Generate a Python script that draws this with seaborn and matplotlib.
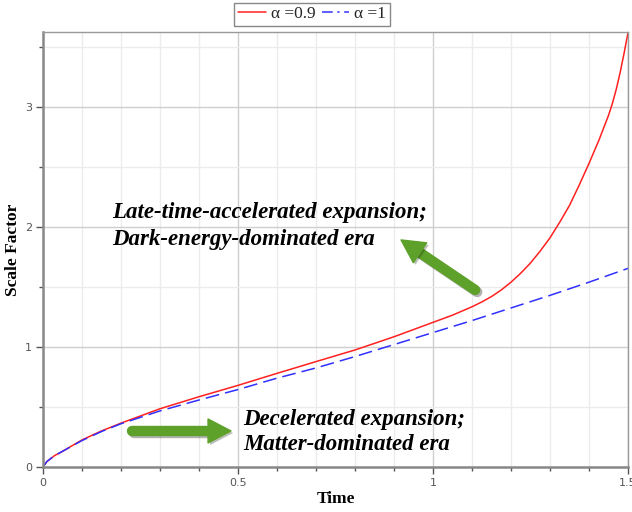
import numpy as np
import pandas as pd
import seaborn as sns
from matplotlib import pyplot as plt
from matplotlib.lines import Line2D
from matplotlib import patheffects as pe

# values
time_red = [0, 0.01, 0.03, 0.05, 0.1, 0.15, 0.2, 0.3, 0.4, 0.5, 0.6, 0.7, 0.8, 0.9, 1.0,
            1.05, 1.1, 1.125, 1.15, 1.175, 1.2, 1.225, 1.25, 1.275, 1.3, 1.325, 1.35, 1.375, 1.4,
            1.425, 1.45, 1.46, 1.47, 1.48, 1.49, 1.5]
scale_red = [0, 0.045, 0.095, 0.13, 0.225, 0.30, 0.365, 0.485, 0.585, 0.68, 0.78, 0.878, 0.975, 1.085, 1.205,
             1.265, 1.335, 1.375, 1.42, 1.475, 1.54, 1.615, 1.70, 1.80, 1.91, 2.04, 2.18, 2.35, 2.53,
             2.72, 2.93, 3.03, 3.15, 3.29, 3.45, 3.62]
time_blue = [0, 0.01, 0.03, 0.05, 0.1, 0.15, 0.2, 0.3, 0.4, 0.5, 0.6, 0.7, 0.8, 0.9, 1.0,
             1.1, 1.2, 1.3, 1.4, 1.5]
scale_blue = [0, 0.045, 0.095, 0.13, 0.22, 0.295, 0.36, 0.467, 0.558, 0.645, 0.74, 0.825, 0.92, 1.02, 1.12,
              1.22, 1.325, 1.43, 1.54, 1.655]
labels = ['\u03b1 =0.9', '\u03b1 =1']

df_red = pd.DataFrame({'Time': time_red, 'Scale': scale_red})
df_blue = pd.DataFrame({'Time': time_blue, 'Scale': scale_blue})

sns.set_theme(style='white')
plt.rcParams['font.family'] = ['DejaVu Sans']

fig = plt.figure(figsize=(6.32, 5.12), dpi=100)
ax = fig.add_axes([0.068, 0.088, 0.9257, 0.8495])

red = '#ff2020'
blue = '#3030ff'
sns.lineplot(data=df_red, x='Time', y='Scale', ax=ax, color=red, lw=1.1)
sns.lineplot(data=df_blue, x='Time', y='Scale', ax=ax, color=blue, lw=1.1)
ax.lines[1].set_dashes([9, 4])

ax.set_xlim(0, 1.5)
ax.set_ylim(0, 3.625)
ax.set_xticks([0, 0.5, 1, 1.5])
ax.set_xticklabels(['0', '0.5', '1', '1.5'])
ax.set_xticks(np.arange(0, 1.51, 0.1), minor=True)
ax.set_yticks([0, 1, 2, 3])
ax.set_yticks(np.arange(0, 3.6, 0.5), minor=True)
ax.grid(True, which='major', color='#cfcfcf', lw=1)
ax.grid(True, which='minor', color='#ececec', lw=1)
ax.set_axisbelow(True)
ax.tick_params(which='major', direction='out', length=5, width=1, color='#555555',
               labelsize=8, labelcolor='#555555', bottom=True, left=True, pad=3)
ax.tick_params(which='minor', direction='out', length=3, width=1, color='#555555',
               bottom=True, left=True)
for side in ['left', 'bottom']:
    ax.spines[side].set_color('#888888')
    ax.spines[side].set_linewidth(1.8)
for side in ['top', 'right']:
    ax.spines[side].set_color('#999999')
    ax.spines[side].set_linewidth(1.0)

serif = ['Liberation Serif', 'DejaVu Serif']
ax.set_xlabel('Time', family=serif, weight='bold', fontsize=12.5, color='black', va='center')
ax.set_ylabel('Scale Factor', family=serif, weight='bold', fontsize=12.5, color='black', va='center')
ax.xaxis.set_label_coords(0.5, -0.074)
ax.yaxis.set_label_coords(-0.051, 0.5)

handles = [Line2D([], [], color=red, lw=1.1),
           Line2D([], [], color=blue, lw=1.1, dashes=[7, 3, 1.5, 3])]
leg = ax.legend(handles, labels, loc='lower center', bbox_to_anchor=(0.46, 1.0), ncol=2,
                fancybox=False, edgecolor='#888888', framealpha=1, borderpad=0.2,
                handlelength=1.6, handletextpad=0.3, columnspacing=0.35, borderaxespad=0.35,
                prop={'family': serif, 'size': 12.5})
leg.get_frame().set_linewidth(1.0)

# annotation text
tprops = dict(family=serif, weight='bold', style='italic', fontsize=16.5, color='black')
ax.text(0.177, 2.075, 'Late-time-accelerated expansion;', va='baseline', **tprops)
ax.text(0.177, 1.85, 'Dark-energy-dominated era', va='baseline', **tprops)
ax.text(0.513, 0.35, 'Decelerated expansion;', va='baseline', **tprops)
ax.text(0.513, 0.142, 'Matter-dominated era', va='baseline', **tprops)

# green arrows: round-capped shaft plus a head
green = '#5ea12a'
shadow = [pe.SimpleLineShadow(offset=(1.5, -1.5), alpha=0.3, shadow_color='black'), pe.Normal()]
pshadow = [pe.SimplePatchShadow(offset=(1.5, -1.5), alpha=0.3), pe.Normal()]
arrows = [((1.108, 1.475), (0.918, 1.892)), ((0.228, 0.30), (0.482, 0.30))]
for (x0, y0), (x1, y1) in arrows:
    # shaft ends a bit before the tip (in display units)
    p0 = ax.transData.transform((x0, y0))
    p1 = ax.transData.transform((x1, y1))
    d = p1 - p0
    pm = p1 - d / np.hypot(*d) * 18
    xm, ym = ax.transData.inverted().transform(pm)
    ax.plot([x0, xm], [y0, ym], color=green, lw=7.5, solid_capstyle='round',
            path_effects=shadow)
    ax.annotate('', xy=(x1, y1), xytext=(xm, ym),
                arrowprops=dict(arrowstyle='simple,head_length=1.1,head_width=1.15,tail_width=0.3',
                                color=green, mutation_scale=15, shrinkA=0, shrinkB=0,
                                path_effects=pshadow))

fig.savefig('out.png', dpi=100)
